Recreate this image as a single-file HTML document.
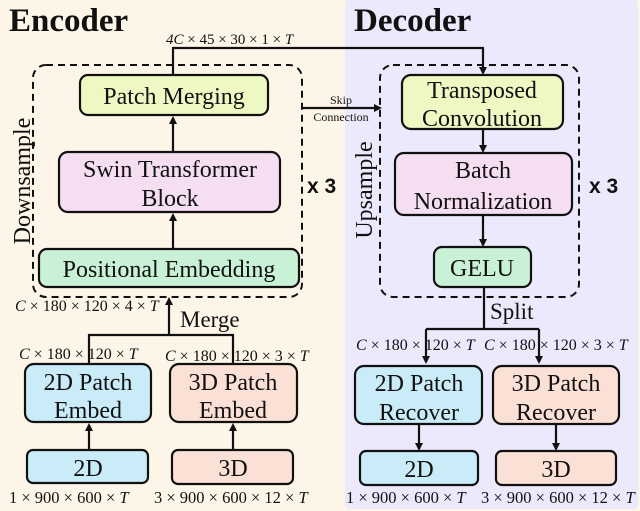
<!DOCTYPE html>
<html><head><meta charset="utf-8"><style>
html,body{margin:0;padding:0;background:#fdf6e8;}
svg{display:block;font-family:"Liberation Serif",serif;}
.b{stroke:#111;stroke-width:2.2;}
.d{fill:none;stroke:#111;stroke-width:2;stroke-dasharray:7,5;}
.t{font-size:24px;fill:#111;text-anchor:middle;}
.m{font-size:16px;font-style:italic;fill:#111;}
.n{font-size:16.5px;fill:#111;}
.ln{stroke:#111;stroke-width:2.2;fill:none;}
</style></head><body>
<svg width="640" height="511" viewBox="0 0 640 511">
<defs><marker id="a" markerWidth="8" markerHeight="8" refX="6" refY="4" orient="auto" markerUnits="userSpaceOnUse"><path d="M0,0 L8,4 L0,8z" fill="#111"/></marker></defs>
<rect x="0" y="0" width="345" height="511" fill="#fdf6e8"/>
<rect x="345" y="0" width="293" height="509" rx="4" fill="#ebe9fb"/>
<text x="9" y="31" font-size="33" font-weight="bold" fill="#111">Encoder</text>
<text x="354" y="31" font-size="33" font-weight="bold" fill="#111">Decoder</text>
<text x="166" y="44" class="m" style="font-size:15px">4C<tspan font-style="normal"> × 45 × 30 × 1 × </tspan>T</text>
<!-- encoder -->
<rect x="33" y="65" width="269" height="232" rx="13" class="d"/>
<rect x="80" y="75" width="188" height="40" rx="8" fill="#eef8c2" class="b"/>
<text x="174" y="104" class="t">Patch Merging</text>
<rect x="59" y="152" width="221" height="60" rx="9" fill="#f5ddf2" class="b"/>
<text x="170" y="177" class="t">Swin Transformer</text>
<text x="170" y="206" class="t">Block</text>
<rect x="39" y="249" width="260" height="38" rx="8" fill="#c9f1d6" class="b"/>
<text x="169" y="277" class="t">Positional Embedding</text>
<line x1="173" y1="152" x2="173" y2="118" class="ln" marker-end="url(#a)"/>
<line x1="173" y1="249" x2="173" y2="215" class="ln" marker-end="url(#a)"/>
<polyline points="173,75 173,48 483,48 483,73" class="ln" marker-end="url(#a)"/>
<text x="22" y="181" class="t" transform="rotate(-90 22 181)" dy="8">Downsample</text>
<text x="307" y="193" font-family="Liberation Sans,sans-serif" font-weight="bold" font-size="21" fill="#111">x 3</text>
<line x1="302" y1="108" x2="380" y2="108" class="ln" stroke-width="1.6" marker-end="url(#a)"/>
<text x="341" y="104" font-size="12" text-anchor="middle" fill="#111">Skip</text>
<text x="341" y="121" font-size="12" text-anchor="middle" fill="#111">Connection</text>
<!-- decoder -->
<rect x="380" y="65" width="199" height="232" rx="13" class="d"/>
<rect x="402" y="75" width="161" height="54" rx="9" fill="#eef8c2" class="b"/>
<text x="482" y="98" class="t">Transposed</text>
<text x="482" y="126" class="t">Convolution</text>
<rect x="395" y="153" width="177" height="62" rx="9" fill="#f5ddf2" class="b"/>
<text x="483" y="178" class="t">Batch</text>
<text x="483" y="209" class="t">Normalization</text>
<rect x="434" y="247" width="97" height="40" rx="8" fill="#c9f1d6" class="b"/>
<text x="482" y="276" class="t">GELU</text>
<line x1="483" y1="129" x2="483" y2="151" class="ln" marker-end="url(#a)"/>
<line x1="483" y1="215" x2="483" y2="245" class="ln" marker-end="url(#a)"/>
<text x="364" y="190" class="t" transform="rotate(-90 364 190)" dy="8">Upsample</text>
<text x="589" y="193" font-family="Liberation Sans,sans-serif" font-weight="bold" font-size="21" fill="#111">x 3</text>
<!-- encoder bottom -->
<text x="15" y="311" class="m">C<tspan font-style="normal"> × 180 × 120 × 4 × </tspan>T</text>
<text x="180" y="327" font-size="23" fill="#111">Merge</text>
<polyline points="89,364 89,335 233,335 233,364" class="ln"/>
<line x1="169" y1="335" x2="169" y2="299" class="ln" marker-end="url(#a)"/>
<text x="19" y="359" class="m">C<tspan font-style="normal"> × 180 × 120 × </tspan>T</text>
<text x="165" y="361" class="m">C<tspan font-style="normal"> × 180 × 120 × 3 × </tspan>T</text>
<rect x="25" y="364" width="126" height="58" rx="9" fill="#c9ecf8" class="b"/>
<text x="88" y="390" class="t">2D Patch</text>
<text x="88" y="418" class="t">Embed</text>
<rect x="170" y="364" width="127" height="58" rx="9" fill="#fbe1d5" class="b"/>
<text x="233" y="390" class="t">3D Patch</text>
<text x="233" y="418" class="t">Embed</text>
<rect x="27" y="450" width="121" height="33" rx="6" fill="#c9ecf8" class="b"/>
<text x="88" y="476" class="t">2D</text>
<rect x="172" y="450" width="121" height="34" rx="6" fill="#fbe1d5" class="b"/>
<text x="233" y="476" class="t">3D</text>
<line x1="89" y1="450" x2="89" y2="425" class="ln" marker-end="url(#a)"/>
<line x1="233" y1="450" x2="233" y2="425" class="ln" marker-end="url(#a)"/>
<text x="9" y="503" class="n">1 × 900 × 600 × <tspan font-style="italic">T</tspan></text>
<text x="154" y="503" class="n">3 × 900 × 600 × 12 × <tspan font-style="italic">T</tspan></text>
<!-- decoder bottom -->
<line x1="484" y1="287" x2="484" y2="329" class="ln"/>
<text x="490" y="319" font-size="23" fill="#111">Split</text>
<polyline points="426,329 539,329" class="ln"/>
<line x1="426" y1="329" x2="426" y2="362" class="ln" marker-end="url(#a)"/>
<line x1="539" y1="329" x2="539" y2="362" class="ln" marker-end="url(#a)"/>
<text x="356" y="350" class="m">C<tspan font-style="normal"> × 180 × 120 × </tspan>T</text>
<text x="484" y="350" class="m">C<tspan font-style="normal"> × 180 × 120 × 3 × </tspan>T</text>
<rect x="355" y="366" width="127" height="58" rx="9" fill="#c9ecf8" class="b"/>
<text x="419" y="391" class="t">2D Patch</text>
<text x="419" y="420" class="t">Recover</text>
<rect x="493" y="366" width="126" height="58" rx="9" fill="#fbe1d5" class="b"/>
<text x="556" y="391" class="t">3D Patch</text>
<text x="556" y="420" class="t">Recover</text>
<rect x="360" y="451" width="118" height="34" rx="6" fill="#c9ecf8" class="b"/>
<text x="419" y="477" class="t">2D</text>
<rect x="496" y="451" width="120" height="34" rx="6" fill="#fbe1d5" class="b"/>
<text x="556" y="477" class="t">3D</text>
<line x1="419" y1="424" x2="419" y2="449" class="ln" marker-end="url(#a)"/>
<line x1="556" y1="424" x2="556" y2="449" class="ln" marker-end="url(#a)"/>
<text x="346" y="503" class="n">1 × 900 × 600 × <tspan font-style="italic">T</tspan></text>
<text x="481" y="503" class="n">3 × 900 × 600 × 12 × <tspan font-style="italic">T</tspan></text>
</svg>
</body></html>
